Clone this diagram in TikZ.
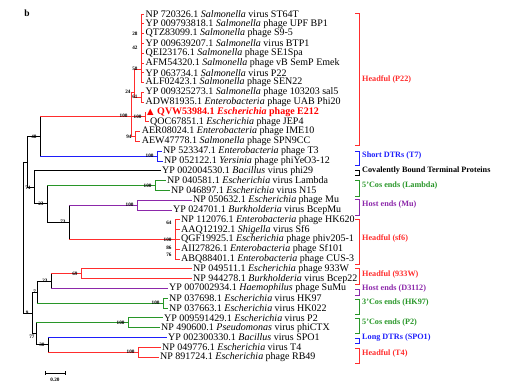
\documentclass[tikz,border=0pt]{standalone}
\usepackage{fontspec}
\setmainfont{Liberation Serif}
\newfontfamily\symfont{DejaVu Sans}
\usetikzlibrary{positioning}
\definecolor{tred}{RGB}{255,45,45}
\definecolor{tblue}{RGB}{30,30,250}
\definecolor{tgreen}{RGB}{40,150,40}
\definecolor{tpurple}{RGB}{140,40,170}
\tikzset{
  leaf/.style={anchor=west, inner sep=1.5pt, font=\fontsize{10}{10}\selectfont},
  bs/.style={inner sep=0.3pt, font=\fontsize{5.2}{6}\selectfont\bfseries},
  grp/.style={anchor=west, inner sep=0pt, font=\fontsize{8.2}{9}\selectfont\bfseries},
  br/.style={line width=0.8pt}
}

\begin{document}
\begin{tikzpicture}[x=1pt,y=-1pt]
  \useasboundingbox (0,0) rectangle (512,385);

  \node[font=\fontsize{9.5}{10}\selectfont\bfseries] (panel) at (27,13) {b};

  % leaves
  \node[leaf] (l1) at (144,14.0) {NP 720326.1 \textit{Salmonella} virus ST64T};
  \node[leaf] (l2) at (144,23.8) {YP 009793818.1 \textit{Salmonella} phage UPF BP1};
  \node[leaf] (l3) at (144,33.6) {QTZ83099.1 \textit{Salmonella} phage S9-5};
  \node[leaf] (l4) at (144,43.4) {YP 009639207.1 \textit{Salmonella} virus BTP1};
  \node[leaf] (l5) at (144,53.2) {QEI23176.1 \textit{Salmonella} phage SE1Spa};
  \node[leaf] (l6) at (144,63.0) {AFM54320.1 \textit{Salmonella} phage vB SemP Emek};
  \node[leaf] (l7) at (144,72.8) {YP 063734.1 \textit{Salmonella} virus P22};
  \node[leaf] (l8) at (144,82.6) {ALF02423.1 \textit{Salmonella} phage SEN22};
  \node[leaf] (l9) at (144,92.4) {YP 009325273.1 \textit{Salmonella} phage 103203 sal5};
  \node[leaf] (l10) at (144,102.2) {ADW81935.1 \textit{Enterobacteria} phage UAB Phi20};
  \node[leaf] (l11) at (145.5,112.0) {\textcolor{red}{{\symfont\fontsize{8.5}{9}\selectfont ▲}\hspace{3.5pt}\textbf{QVW53984.1 \textit{Escherichia} phage E212}}};
  \node[leaf] (l12) at (148.5,121.8) {QOC67851.1 \textit{Escherichia} phage JEP4};
  \node[leaf] (l13) at (140.2,131.6) {AER08024.1 \textit{Enterobacteria} phage IME10};
  \node[leaf] (l14) at (140.2,141.4) {AEW47778.1 \textit{Salmonella} phage SPN9CC};
  \node[leaf] (l15) at (161.5,151.2) {NP 523347.1 \textit{Enterobacteria} phage T3};
  \node[leaf] (l16) at (162.5,161.0) {NP 052122.1 \textit{Yersinia} phage phiYeO3-12};
  \node[leaf] (l17) at (160.5,170.8) {YP 002004530.1 \textit{Bacillus} virus phi29};
  \node[leaf] (l18) at (165.5,180.6) {NP 040581.1 \textit{Escherichia} virus Lambda};
  \node[leaf] (l19) at (169.5,190.4) {NP 046897.1 \textit{Escherichia} virus N15};
  \node[leaf] (l20) at (191.5,200.2) {NP 050632.1 \textit{Escherichia} phage Mu};
  \node[leaf] (l21) at (171.5,210.0) {YP 024701.1 \textit{Burkholderia} virus BcepMu};
  \node[leaf] (l22) at (179.5,219.8) {NP 112076.1 \textit{Enterobacteria} phage HK620};
  \node[leaf] (l23) at (179.5,229.6) {AAQ12192.1 \textit{Shigella} virus Sf6};
  \node[leaf] (l24) at (179.5,239.4) {QGF19925.1 \textit{Escherichia} phage phiv205-1};
  \node[leaf] (l25) at (179.5,249.2) {AII27826.1 \textit{Enterobacteria} phage Sf101};
  \node[leaf] (l26) at (179.5,259.0) {ABQ88401.1 \textit{Enterobacteria} phage CUS-3};
  \node[leaf] (l27) at (191.5,268.8) {NP 049511.1 \textit{Escherichia} phage 933W};
  \node[leaf] (l28) at (191.5,278.6) {NP 944278.1 \textit{Burkholderia} virus Bcep22};
  \node[leaf] (l29) at (167.5,288.4) {YP 007002934.1 \textit{Haemophilus} phage SuMu};
  \node[leaf] (l30) at (167.5,298.2) {NP 037698.1 \textit{Escherichia} virus HK97};
  \node[leaf] (l31) at (167.5,308.0) {NP 037663.1 \textit{Escherichia} virus HK022};
  \node[leaf] (l32) at (162.5,317.8) {YP 009591429.1 \textit{Escherichia} virus P2};
  \node[leaf] (l33) at (159.5,327.6) {NP 490600.1 \textit{Pseudomonas} virus phiCTX};
  \node[leaf] (l34) at (166.5,337.4) {YP 002300330.1 \textit{Bacillus} virus SPO1};
  \node[leaf] (l35) at (160.5,347.2) {NP 049776.1 \textit{Escherichia} virus T4};
  \node[leaf] (l36) at (158.5,357.0) {NP 891724.1 \textit{Escherichia} phage RB49};

  % inner nodes
  \coordinate (root) at (23,237.5);
  \coordinate (nU) at (27,162);
  \coordinate (n48) at (40,136.5);
  \coordinate (nP22) at (131,116);
  \coordinate (n24) at (134,92);
  \coordinate (n58) at (141,69);
  \coordinate (n28) at (141,33.6);
  \coordinate (n42) at (141,47.5);
  \coordinate (n61) at (141,97.3);
  \coordinate (nQ) at (145,116.9);
  \coordinate (n94) at (135,136.5);
  \coordinate (nT7) at (157,156.1);
  \coordinate (n74) at (34,187.4);
  \coordinate (n23) at (47,203.9);
  \coordinate (nLam) at (155,185.5);
  \coordinate (n73) at (69,222.3);
  \coordinate (nMu) at (137,205.1);
  \coordinate (nSf6) at (175,239.4);
  \coordinate (n64) at (175,223);
  \coordinate (n86) at (175,248);
  \coordinate (n76) at (175,255);
  \coordinate (nL) at (32,312.9);
  \coordinate (n7) at (37,292);
  \coordinate (n23b) at (51,281);
  \coordinate (n933) at (81,273.7);
  \coordinate (nHK) at (163,303.1);
  \coordinate (n77) at (36,333.8);
  \coordinate (nP2) at (128,322.7);
  \coordinate (n30) at (48,344.8);
  \coordinate (nT4) at (138,352.1);

  % vertical bars of the inner nodes
  \foreach \nd/\a/\b/\clr in {
      root/nU/nL/black, nU/n48/n74/black, n48/nP22/nT7/black,
      nP22/n24/n94/tred, n24/n58/n61/tred, n58/l1/l8/tred, n61/l9/l10/tred,
      nQ/l11/l12/tred, n94/l13/l14/tred, nT7/l15/l16/tblue,
      n74/l17/n23/black, n23/nLam/n73/black, nLam/l18/l19/tgreen,
      n73/nMu/nSf6/black, nMu/l20/l21/tpurple, nSf6/l22/l26/tred,
      nL/n7/n77/black, n7/n23b/nHK/black, n23b/n933/l29/black,
      n933/l27/l28/tred, nHK/l30/l31/tgreen, n77/nP2/n30/black,
      nP2/l32/l33/tgreen, n30/l34/nT4/black, nT4/l35/l36/tred}
    \draw[br,\clr] (\nd |- \a) -- (\nd |- \b);

  % branches
  \foreach \from/\to/\clr in {
      root/nU/black, root/nL/black, nU/n48/black, nU/n74/black,
      n48/nP22/tred, n48/nT7/tblue,
      nP22/n24/tred, nP22/nQ/tred, nP22/n94/tred,
      n24/n58/tred, n24/n61/tred,
      n58/l1/tred, n58/l2/tred, n58/l3/tred, n58/l4/tred,
      n58/l5/tred, n58/l6/tred, n58/l7/tred, n58/l8/tred,
      n61/l9/tred, n61/l10/tred, nQ/l11/tred, nQ/l12/tred,
      n94/l13/tred, n94/l14/tred, nT7/l15/tblue, nT7/l16/tblue,
      n74/l17/black, n74/n23/black, n23/nLam/tgreen, n23/n73/black,
      nLam/l18/tgreen, nLam/l19/tgreen, n73/nMu/tpurple, n73/nSf6/tred,
      nMu/l20/tpurple, nMu/l21/tpurple,
      nSf6/l22/tred, nSf6/l23/tred, nSf6/l24/tred, nSf6/l25/tred, nSf6/l26/tred,
      nL/n7/black, nL/n77/black, n7/n23b/black, n7/nHK/tgreen,
      n23b/n933/tred, n23b/l29/tpurple, n933/l27/tred, n933/l28/tred,
      nHK/l30/tgreen, nHK/l31/tgreen, n77/nP2/tgreen, n77/n30/black,
      nP2/l32/tgreen, nP2/l33/tgreen, n30/l34/tblue, n30/nT4/tred,
      nT4/l35/tred, nT4/l36/tred}
    \draw[br,\clr] (\from |- \to) -- (\to);

  % bootstrap values
  \foreach \nd/\val in {
      n48/48, nP22/100, n24/24, n58/58, n28/28, n42/42, n61/61, nQ/100,
      n94/94, nT7/100, n74/74, n23/23, nLam/100, n73/73, nMu/100,
      nSf6/100, n64/64, n86/86, n76/76, nL/9, n23b/23, n933/69,
      nHK/100, n30/30, nP2/100, nT4/100}
    \node[bs,left=3pt of \nd] (b\nd) {\val};
  \node[bs,left=0.5pt of n7] (bn7) {7};
  \node[bs,left=1pt of n77,yshift=-3pt] (bn77) {77};

  % groups
  \foreach \ya/\yb/\yl/\clr/\txt [count=\k] in {
      14/146/79/tred/Headful (P22),
      152/166/156/tblue/Short DTRs (T7),
      171/176/171/black/Covalently Bound Terminal Proteins,
      181/197/186/tgreen/5'Cos ends (Lambda),
      200/216/205/tpurple/Host ends (Mu),
      220/265/238/tred/Headful (sf6),
      269/284/274/tred/Headful (933W),
      289/295/289/tpurple/Host ends (D3112),
      299/314/303/tgreen/3'Cos ends (HK97),
      318/333/323/tgreen/5'Cos ends (P2),
      338/343/338/tblue/Long DTRs (SPO1),
      348/363/353/tred/Headful (T4)} {
    \draw[line width=1pt,\clr] (355,\ya) -- (359,\ya) -- (359,\yb) -- (355,\yb);
    \node[grp,text=\clr] (g\k) at (362,\yl) {\txt};
  }

  % scale bar
  \coordinate (sa) at (45,373);
  \coordinate (sb) at (65,373);
  \draw[br] (sa) -- (sb);
  \draw[br] ([yshift=1.8pt]sa) -- ([yshift=-1.8pt]sa);
  \draw[br] ([yshift=1.8pt]sb) -- ([yshift=-1.8pt]sb);
  \node[bs,font=\fontsize{5.2}{6}\selectfont\bfseries] (scale) at (55,380) {0.20};
\end{tikzpicture}
\end{document}
